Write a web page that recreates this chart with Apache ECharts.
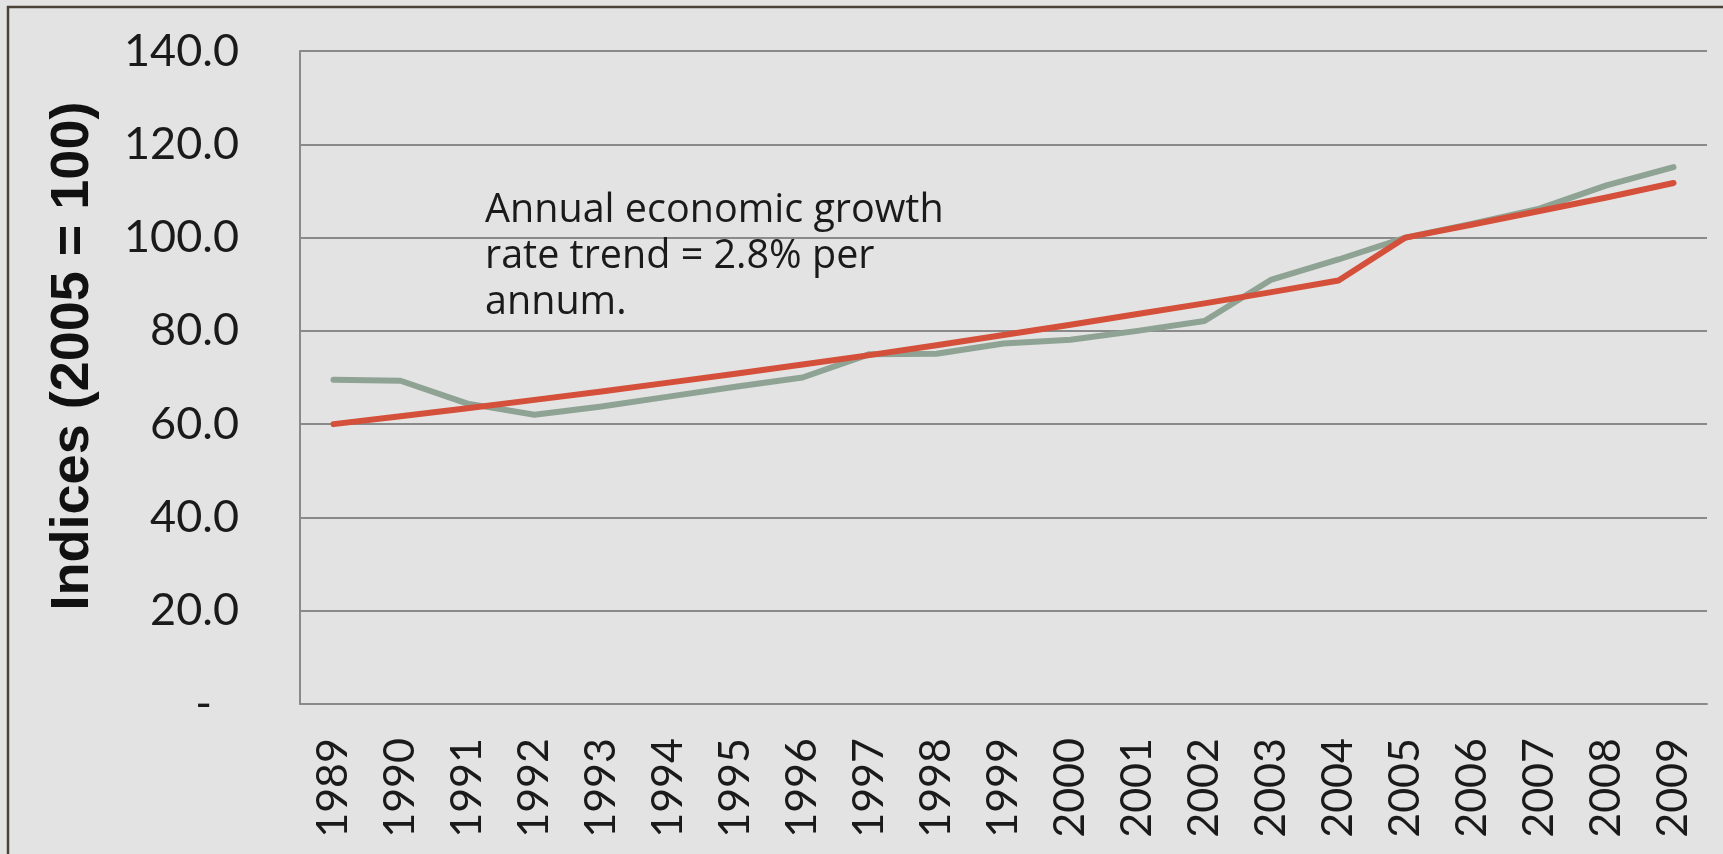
<!DOCTYPE html>
<html>
<head>
<meta charset="utf-8">
<title>Indices (2005 = 100)</title>
<script src="https://cdn.jsdelivr.net/npm/echarts@6/dist/echarts.min.js"></script>
<style>
  html, body { margin: 0; padding: 0; background: #e3e3e3; }
  #chart { width: 1723px; height: 854px; }
</style>
</head>
<body>
<div id="chart"></div>
<script>
// Years on the category axis
var years = ['1989','1990','1991','1992','1993','1994','1995','1996','1997','1998','1999',
             '2000','2001','2002','2003','2004','2005','2006','2007','2008','2009'];

// Actual index values (2005 = 100)
var actualIndex = [69.5, 69.3, 64.4, 62.0, 63.8, 65.9, 68.0, 70.0, 75.0, 75.1, 77.3,
                   78.1, 80.0, 82.1, 91.0, 95.3, 100.0, 103.0, 106.2, 111.2, 115.1];

// Trend values at 2.8% per annum
var trendIndex = [60.0, 61.7, 63.4, 65.2, 67.0, 68.9, 70.8, 72.8, 74.8, 76.9, 79.1,
                  81.3, 83.6, 85.9, 88.3, 90.8, 100.0, 102.8, 105.7, 108.6, 111.7];

// Value axis ticks
var yMin = 0, yMax = 140, yStep = 20;

var yTitle = 'Indices (2005 = 100)';
var noteText = 'Annual economic growth\nrate trend = 2.8% per\nannum.';

var chart = echarts.init(document.getElementById('chart'), null, { renderer: 'canvas' });

var gridColor = '#8a8a8a';

chart.setOption({
  backgroundColor: '#e3e3e3',
  animation: false,
  grid: { left: 300, right: 16, top: 51, bottom: 150, containLabel: false },
  xAxis: {
    type: 'category',
    data: years,
    boundaryGap: true,
    axisLine: { show: true, lineStyle: { color: gridColor, width: 2 } },
    axisTick: { show: false },
    axisLabel: {
      interval: 0,
      rotate: 90,
      margin: 34,
      color: '#1a1a1a',
      fontFamily: 'Lato',
      fontSize: 43
    }
  },
  yAxis: {
    type: 'value',
    min: yMin,
    max: yMax,
    interval: yStep,
    axisLine: { show: true, lineStyle: { color: gridColor, width: 2 } },
    axisTick: { show: false },
    splitLine: { show: true, lineStyle: { color: gridColor, width: 2 } },
    axisLabel: {
      margin: 61,
      color: '#1a1a1a',
      fontFamily: 'Lato',
      fontSize: 45,
      formatter: function (v) {
        return v === 0 ? '{dash|-}' : v.toFixed(1);
      },
      rich: {
        dash: { fontFamily: 'Lato', fontSize: 45, color: '#1a1a1a', padding: [0, 27, 0, 0] }
      }
    }
  },
  series: [
    {
      name: 'Actual',
      type: 'line',
      data: actualIndex,
      symbol: 'none',
      smooth: false,
      lineStyle: { color: '#8fa394', width: 6, cap: 'round', join: 'round' },
      z: 2
    },
    {
      name: 'Trend',
      type: 'line',
      data: trendIndex,
      symbol: 'none',
      smooth: false,
      lineStyle: { color: '#d4503a', width: 6, cap: 'round', join: 'round' },
      z: 3
    }
  ],
  graphic: [
    {
      // frame around the slide area
      type: 'rect',
      silent: true,
      shape: { x: 8, y: 7, width: 1760, height: 900 },
      style: { fill: 'none', stroke: '#4b4237', lineWidth: 2.5 },
      z: 10
    },
    {
      type: 'text',
      x: 73,
      y: 356,
      rotation: Math.PI / 2,
      style: {
        text: yTitle,
        fontFamily: 'Liberation Sans',
        fontWeight: 'bold',
        fontSize: 54,
        fill: '#111111',
        align: 'center',
        verticalAlign: 'middle'
      },
      z: 10
    },
    {
      type: 'text',
      x: 485,
      y: 188,
      style: {
        text: noteText,
        fontFamily: 'Open Sans',
        fontSize: 39.5,
        lineHeight: 46,
        fill: '#1a1a1a',
        align: 'left',
        verticalAlign: 'top'
      },
      z: 10
    }
  ]
});
</script>
</body>
</html>
